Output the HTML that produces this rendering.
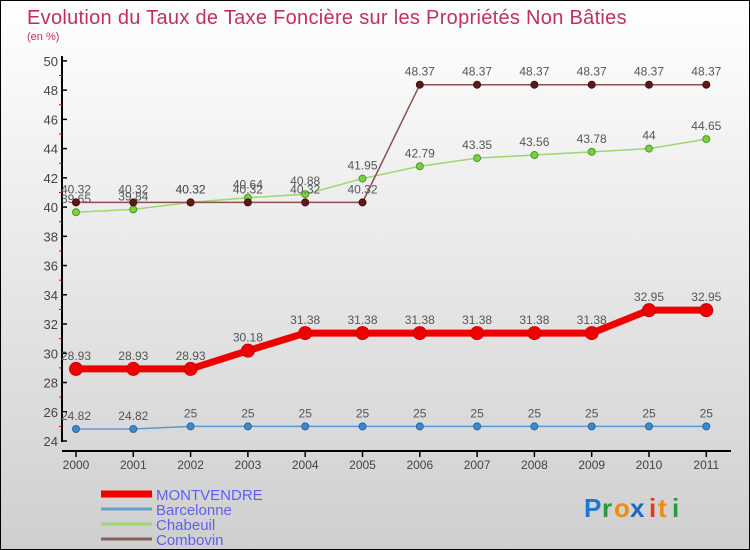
<!DOCTYPE html>
<html><head><meta charset="utf-8"><style>
body{margin:0;}
#c{width:748px;height:548px;border:1px solid #000;background:linear-gradient(#ffffff,#cfcfcf);position:relative;font-family:"Liberation Sans",sans-serif;overflow:hidden}
svg{position:absolute;left:0;top:0}
</style></head><body>
<div id="c">
<svg id="s" width="748" height="548">
<text x="26" y="23" font-size="20" letter-spacing="0.3" fill="#c0305a">Evolution du Taux de Taxe Foncière sur les Propriétés Non Bâties</text>
<text x="26" y="39" font-size="11" fill="#c0305a">(en %)</text>
<g id="axes"></g><g id="series"></g><g id="legend"></g>
<g font-size="26" font-weight="bold" font-family="'Liberation Sans',sans-serif">
<text x="583" y="516" fill="#1a78d0">P</text><text x="601" y="516" fill="#2a9a3a">r</text><text x="613" y="516" fill="#f08a10">o</text><text x="629" y="516" fill="#1a68c8">x</text><text x="648" y="516" fill="#e83a10">i</text><text x="657" y="516" fill="#f08a10">t</text><text x="671" y="516" fill="#2a9a3a">i</text>
</g>
</svg></div>
<script>
const years=[2000,2001,2002,2003,2004,2005,2006,2007,2008,2009,2010,2011];
const montvendre=[28.93,28.93,28.93,30.18,31.38,31.38,31.38,31.38,31.38,31.38,32.95,32.95];
const barcelonne=[24.82,24.82,25,25,25,25,25,25,25,25,25,25];
const chabeuil=[39.65,39.84,40.32,40.64,40.88,41.95,42.79,43.35,43.56,43.78,44,44.65];
const combovin=[40.32,40.32,40.32,40.32,40.32,40.32,48.37,48.37,48.37,48.37,48.37,48.37];
const yTicks=[24,26,28,30,32,34,36,38,40,42,44,46,48,50];
const NS="http://www.w3.org/2000/svg";
const x=i=>75+i*57.3;
const y=v=>440-(v-24)*14.62;
function mk(t,a,p){const e=document.createElementNS(NS,t);for(const k in a)e.setAttribute(k,a[k]);p.appendChild(e);return e;}
const ax=document.getElementById('axes');
let l=mk('line',{x1:61,y1:55,x2:61,y2:441,stroke:'#000','stroke-width':2},ax);


l=mk('line',{x1:61,y1:450,x2:730,y2:450,stroke:'#000','stroke-width':2},ax);


yTicks.forEach(v=>{
 mk('line',{x1:61,y1:y(v),x2:66,y2:y(v),stroke:'#000','stroke-width':1.5},ax);
 if(v<50)mk('line',{x1:58,y1:y(v+1),x2:61,y2:y(v+1),stroke:'#e00','stroke-width':1},ax);
 const t=mk('text',{x:57,y:y(v)+5,'text-anchor':'end','font-size':13,fill:'#444'},ax);t.textContent=v;
 
 
});
years.forEach((yr,i)=>{
 mk('line',{x1:x(i),y1:450,x2:x(i),y2:456,stroke:'#000','stroke-width':1.5},ax);
 const t=mk('text',{x:x(i),y:468,'text-anchor':'middle','font-size':12,fill:'#444'},ax);t.textContent=yr;
 
 
});
const sg=document.getElementById('series');
function series(data,name,color,w,r,dot,stroke){
 const g=mk('g',{},sg);
 
 
 mk('polyline',{points:data.map((v,i)=>x(i)+','+y(v)).join(' '),fill:'none',stroke:color,'stroke-width':w},g);
 data.forEach((v,i)=>{
  const c=mk('circle',{cx:x(i),cy:y(v),r:r,fill:dot,stroke:stroke,'stroke-width':1},g);
  
  
  const t=mk('text',{x:x(i),y:y(v)-9,'text-anchor':'middle','font-size':12,fill:'#555'},g);t.textContent=v;
  
  
 });
}
series(barcelonne,'barcelonne','#5a9ad0',1.5,3.5,'#3a8ad0','#2a6aa0');
series(chabeuil,'chabeuil','#9ad870',1.5,3.5,'#7ad040','#4a9a20');
series(combovin,'combovin','#8a5050',1.5,3.5,'#601818','#401010');
series(montvendre,'montvendre','#ee0000',7,6.5,'#ee0000','#cc0000');
const lg=document.getElementById('legend');
[['MONTVENDRE','#ee0000',7],['Barcelonne','#6aa0d0',3],['Chabeuil','#9ad870',3],['Combovin','#8a6060',3]].forEach((e,i)=>{
 const yy=493+i*15;
 const g=mk('g',{},lg);
 
 
 mk('line',{x1:100,y1:yy,x2:151,y2:yy,stroke:e[1],'stroke-width':e[2]},g);
 const t=mk('text',{x:155,y:yy+6,'font-size':15,fill:'#6060f0'},g);t.textContent=e[0];
});
</script>
</body></html>
